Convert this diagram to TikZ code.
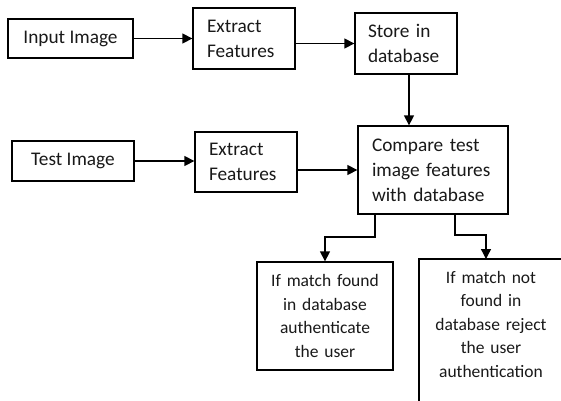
\documentclass[tikz,border=0pt]{standalone}
\usepackage{fontspec}
\setmainfont{Carlito}
\usetikzlibrary{arrows.meta,calc}
\begin{document}
\begin{tikzpicture}[x=1pt,y=-1pt,
 box/.style={draw, line width=1.3pt, inner ysep=0pt, font=\fontsize{19.3}{25}\selectfont, text=black!90},
 lbox/.style={box, align=left},
 sbox/.style={box, align=center, font=\fontsize{17.5}{23.5}\selectfont},
 stxt/.style={align=center, inner sep=0pt, font=\fontsize{17.5}{23.5}\selectfont, text=black!90},
 edge/.style={line width=1.3pt},
 arr/.style={line width=1.3pt, -{Triangle[length=10pt,width=10pt]}}]
\clip (0,0) rectangle (561,400);
\fill[white] (0,0) rectangle (561,400);

\node[box, minimum width=125pt, minimum height=39pt, inner xsep=0pt] (b1) at (70.5,38.5) {Input Image};
\node[lbox, text width=74pt, inner xsep=14pt, minimum height=61pt] (b2) at (244,38.5) {Extract\\Features};
\node[lbox, text width=76pt, inner xsep=13pt, minimum height=61pt] (b3) at (406,43.5) {Store in\\database};
\node[box, minimum width=122pt, minimum height=40pt, inner xsep=0pt] (b4) at (73,161) {Test Image};
\node[lbox, text width=74pt, inner xsep=14pt, minimum height=60pt] (b5) at (246,162) {Extract\\Features};
\node[lbox, text width=122pt, inner xsep=14pt, minimum height=88pt] (b6) at (433,170) {Compare test\\image features\\with database};
\node[sbox, text width=120pt, inner xsep=8pt, minimum height=108pt] (b7) at (325,316) {If match found\\in database\\authenticate\\the user};
\draw[edge] (419,420) -- (419,259) -- (580,259);
\node[stxt, text width=130pt] (b8) at (491,324) {If match not\\found in\\database reject\\the user\\authentication};
\coordinate (b8in) at (486,259);

\draw[arr] (b1.east) -- (b1.east -| b2.west);
\draw[arr] (b2.east |- b3.west) -- (b3.west);
\draw[arr] ([xshift=3pt]b3.south) -- ([xshift=3pt]b3.south |- b6.north);
\draw[arr] (b4.east) -- (b4.east -| b5.west);
\draw[arr] (b5.east |- b6.west) -- (b6.west);
\coordinate (j1) at (375,237);
\draw[arr] (j1 |- b6.south) -- (j1) -| (b7.north);
\coordinate (j2) at (455,235);
\draw[arr] (j2 |- b6.south) -- (j2) -| (b8in);
\end{tikzpicture}
\end{document}
